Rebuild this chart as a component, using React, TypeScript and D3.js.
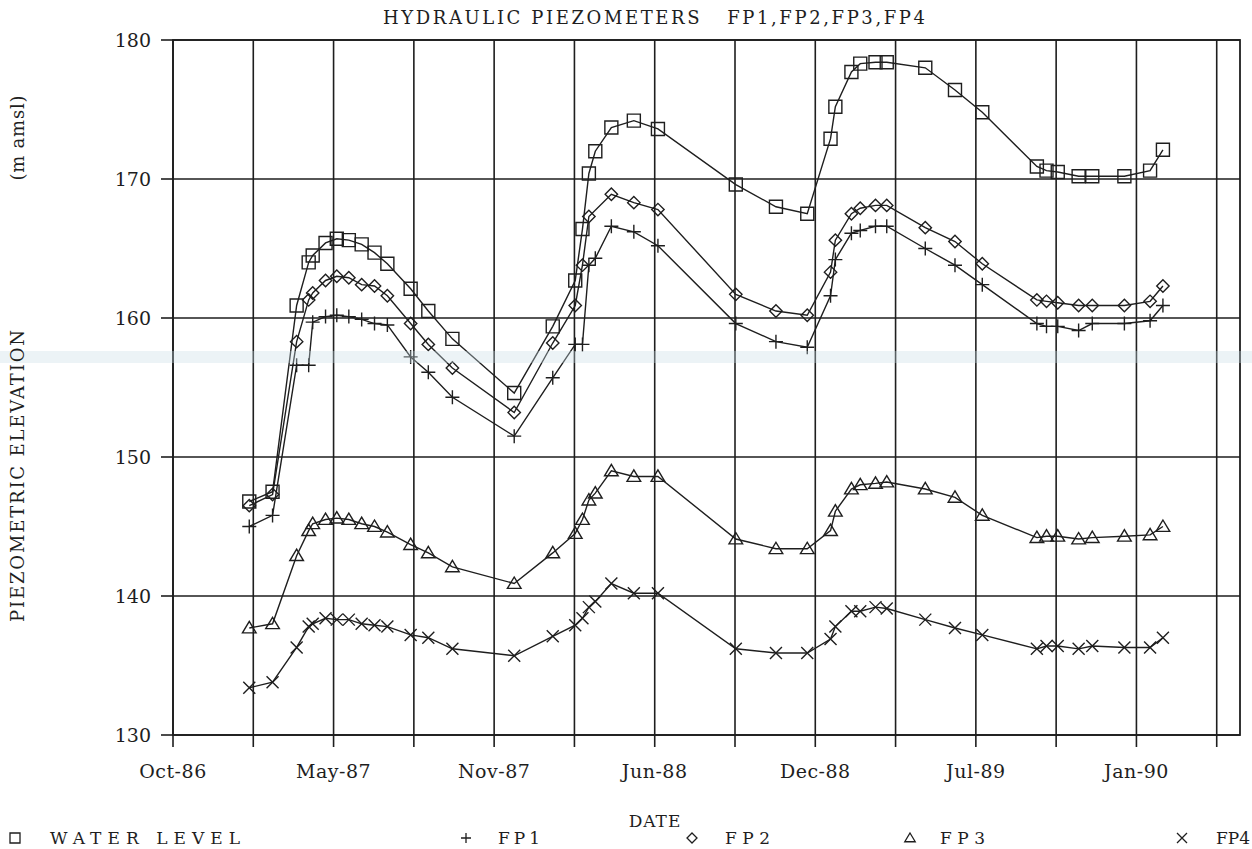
import React from "react";
import * as d3 from "d3";

// survey dates shared by all piezometers
const surveyDates = [
  "1987-01-18", "1987-02-16", "1987-03-18", "1987-04-02", "1987-04-07",
  "1987-04-23", "1987-05-07", "1987-05-22", "1987-06-07", "1987-06-23",
  "1987-07-09", "1987-08-07", "1987-08-29", "1987-09-28", "1987-12-14",
  "1988-01-31", "1988-02-28", "1988-03-08", "1988-03-16", "1988-03-24",
  "1988-04-13", "1988-05-11", "1988-06-10", "1988-09-15", "1988-11-04",
  "1988-12-13", "1989-01-11", "1989-01-17", "1989-02-06", "1989-02-17",
  "1989-03-08", "1989-03-22", "1989-05-09", "1989-06-15", "1989-07-19",
  "1989-09-25", "1989-10-07", "1989-10-21", "1989-11-16", "1989-12-03",
  "1990-01-12", "1990-02-13", "1990-03-01",
];

const waterLevel = [
  146.8, 147.5, 160.9, 164.0, 164.5, 165.4, 165.7, 165.6, 165.3, 164.7,
  163.9, 162.1, 160.5, 158.5, 154.6, 159.4, 162.7, 166.4, 170.4, 172.0,
  173.7, 174.2, 173.6, 169.6, 168.0, 167.5, 172.9, 175.2, 177.7, 178.3,
  178.4, 178.4, 178.0, 176.4, 174.8, 170.9, 170.6, 170.5, 170.2, 170.2,
  170.2, 170.6, 172.1,
];

const fp1 = [
  145.0, 145.8, 156.6, 156.6, 159.7, 160.1, 160.2, 160.1, 159.9, 159.6,
  159.5, 157.2, 156.1, 154.3, 151.5, 155.7, 158.1, 158.1, 163.8, 164.3,
  166.6, 166.2, 165.2, 159.6, 158.3, 157.9, 161.6, 164.2, 166.1, 166.3,
  166.6, 166.6, 165.0, 163.8, 162.4, 159.6, 159.4, 159.4, 159.1, 159.6,
  159.6, 159.8, 160.9,
];

const fp2 = [
  146.5, 147.3, 158.3, 161.3, 161.8, 162.7, 163.0, 162.9, 162.4, 162.3,
  161.6, 159.6, 158.1, 156.4, 153.2, 158.2, 160.9, 163.8, 167.3, null,
  168.9, 168.3, 167.8, 161.7, 160.5, 160.2, 163.3, 165.6, 167.5, 167.9,
  168.1, 168.1, 166.5, 165.5, 163.9, 161.3, 161.2, 161.1, 160.9, 160.9,
  160.9, 161.2, 162.3,
];

const fp3 = [
  137.7, 138.0, 142.9, 144.7, 145.2, 145.5, 145.6, 145.5, 145.2, 145.0,
  144.6, 143.7, 143.1, 142.1, 140.9, 143.1, 144.5, 145.5, 146.9, 147.4,
  149.0, 148.6, 148.6, 144.1, 143.4, 143.4, 144.7, 146.1, 147.7, 148.0,
  148.1, 148.2, 147.7, 147.1, 145.8, 144.2, 144.3, 144.3, 144.1, 144.2,
  144.3, 144.4, 145.0,
];

const fp4 = [
  133.4, 133.8, 136.3, 137.8, 138.0, 138.4, 138.3, 138.3, 138.0, 137.9,
  137.8, 137.2, 137.0, 136.2, 135.7, 137.1, 137.9, 138.4, 139.2, 139.6,
  140.9, 140.2, 140.2, 136.2, 135.9, 135.9, 136.9, 137.8, 138.9, 138.9,
  139.2, 139.1, 138.3, 137.7, 137.2, 136.2, 136.4, 136.4, 136.2, 136.4,
  136.3, 136.3, 137.0,
];

const yTicks = [130, 140, 150, 160, 170, 180];
const axisStart = "1986-10-15";
const gridStepDays = 100;
const gridCount = 14;
const axisSpanDays = 1329;

const W = 1252;
const H = 849;
const margin = { top: 40, right: 12, bottom: 114, left: 173 };
const ink = "#1e1e1e";
const font = "'DejaVu Serif', 'Liberation Serif', serif";

type Marker = "square" | "plus" | "diamond" | "triangle" | "cross";

const markerPath = (m: Marker, s: number) => {
  switch (m) {
    case "square":
      return `M${-s},${-s}h${2 * s}v${2 * s}h${-2 * s}Z`;
    case "diamond":
      return `M0,${-s}L${s},0L0,${s}L${-s},0Z`;
    case "triangle":
      return `M0,${-s}L${s * 1.05},${s * 0.75}H${-s * 1.05}Z`;
    case "plus":
      return `M${-s},0H${s}M0,${-s}V${s}`;
    case "cross":
      return `M${-s},${-s}L${s},${s}M${-s},${s}L${s},${-s}`;
  }
};

const parse = d3.timeParse("%Y-%m-%d");

const series: { name: string; values: (number | null)[]; marker: Marker; size: number }[] = [
  { name: "WATER LEVEL", values: waterLevel, marker: "square", size: 6.5 },
  { name: "FP1", values: fp1, marker: "plus", size: 7 },
  { name: "FP2", values: fp2, marker: "diamond", size: 6.2 },
  { name: "FP3", values: fp3, marker: "triangle", size: 6.5 },
  { name: "FP4", values: fp4, marker: "cross", size: 6 },
];

const legend: { label: string; marker: Marker; sx: number; tx: number; len?: number }[] = [
  { label: "WATER LEVEL", marker: "square", sx: 15, tx: 50, len: 190 },
  { label: "FP1", marker: "plus", sx: 466, tx: 498, len: 42 },
  { label: "FP2", marker: "diamond", sx: 692, tx: 725, len: 45 },
  { label: "FP3", marker: "triangle", sx: 910, tx: 940, len: 45 },
  { label: "FP4", marker: "cross", sx: 1182, tx: 1216 },
];

export default function App() {
  const start = parse(axisStart) as Date;
  const x = d3
    .scaleTime()
    .domain([start, d3.timeDay.offset(start, axisSpanDays)])
    .range([margin.left, W - margin.right]);
  const y = d3
    .scaleLinear()
    .domain([130, 180])
    .range([H - margin.bottom, margin.top]);

  const gridDates = d3.range(gridCount).map((i) => d3.timeDay.offset(start, i * gridStepDays));
  const fmt = d3.timeFormat("%b-%y");
  const dates = surveyDates.map((d) => parse(d) as Date);

  const line = d3
    .line<{ d: Date; v: number }>()
    .x((p) => x(p.d))
    .y((p) => y(p.v));

  const x0 = margin.left;
  const x1 = W - margin.right;
  const y0 = H - margin.bottom;
  const y1 = margin.top;

  return (
    <svg
      width={W}
      height={H}
      style={{ position: "absolute", left: 0, top: 0, background: "#fff" }}
      fontFamily={font}
    >
      <rect width={W} height={H} fill="#fff" />

      {/* grid */}
      {gridDates.map((d, i) => (
        <g key={"v" + i}>
          <line x1={x(d)} x2={x(d)} y1={y1} y2={y0} stroke={ink} strokeWidth={1.6} />
          <line x1={x(d)} x2={x(d)} y1={y0} y2={y0 + 12} stroke={ink} strokeWidth={1.6} />
        </g>
      ))}
      {yTicks.map((t) => (
        <g key={"h" + t}>
          <line x1={x0} x2={x1} y1={y(t)} y2={y(t)} stroke={ink} strokeWidth={1.6} />
          <line x1={x0 - 12} x2={x0} y1={y(t)} y2={y(t)} stroke={ink} strokeWidth={1.6} />
          <text
            x={x0 - 22}
            y={y(t)}
            textAnchor="end"
            dominantBaseline="central"
            fontSize={19}
            fill={ink}
          >
            {t}
          </text>
        </g>
      ))}
      <rect x={x0} y={y1} width={x1 - x0} height={y0 - y1} fill="none" stroke={ink} strokeWidth={1.8} />

      {/* x tick labels every 200 days */}
      {gridDates.map((d, i) =>
        i % 2 === 0 ? (
          <text key={"xl" + i} x={x(d)} y={778} textAnchor="middle" fontSize={19} fill={ink} letterSpacing={0.5}>
            {fmt(d)}
          </text>
        ) : null
      )}

      {/* series */}
      {series.map((s) => {
        const pts = dates
          .map((d, i) => ({ d, v: s.values[i] }))
          .filter((p) => p.v !== null) as { d: Date; v: number }[];
        return (
          <g key={s.name}>
            <path d={line(pts) || ""} fill="none" stroke={ink} strokeWidth={1.4} />
            {pts.map((p, i) => (
              <path
                key={i}
                d={markerPath(s.marker, s.size)}
                transform={`translate(${x(p.d)},${y(p.v)})`}
                fill="none"
                stroke={ink}
                strokeWidth={1.4}
              />
            ))}
          </g>
        );
      })}

      {/* faint scanner stripe */}
      <rect x={0} y={351} width={W} height={12} fill="#c9dce6" opacity={0.35} />

      {/* titles */}
      <text x={383} y={24} fontSize={18} fill={ink} textLength={542} lengthAdjust="spacing">
        HYDRAULIC PIEZOMETERS{"\u00a0\u00a0\u00a0"}FP1,FP2,FP3,FP4
      </text>
      <text
        transform={`translate(24,476) rotate(-90)`}
        textAnchor="middle"
        fontSize={18}
        fill={ink}
        textLength={292}
        lengthAdjust="spacing"
      >
        PIEZOMETRIC ELEVATION
      </text>
      <text
        transform={`translate(24,138) rotate(-90)`}
        textAnchor="middle"
        fontSize={18}
        fill={ink}
        textLength={85}
        lengthAdjust="spacing"
      >
        (m amsl)
      </text>
      <text x={655} y={827} textAnchor="middle" fontSize={17} fill={ink} letterSpacing={1}>
        DATE
      </text>

      {/* legend */}
      {legend.map((l) => (
        <g key={l.label}>
          <path
            d={markerPath(l.marker, 5)}
            transform={`translate(${l.sx},838)`}
            fill="none"
            stroke={ink}
            strokeWidth={1.3}
          />
          <text
            x={l.tx}
            y={844}
            fontSize={17}
            fill={ink}
            textLength={l.len}
            lengthAdjust={l.len ? "spacing" : undefined}
          >
            {l.label}
          </text>
        </g>
      ))}
    </svg>
  );
}
